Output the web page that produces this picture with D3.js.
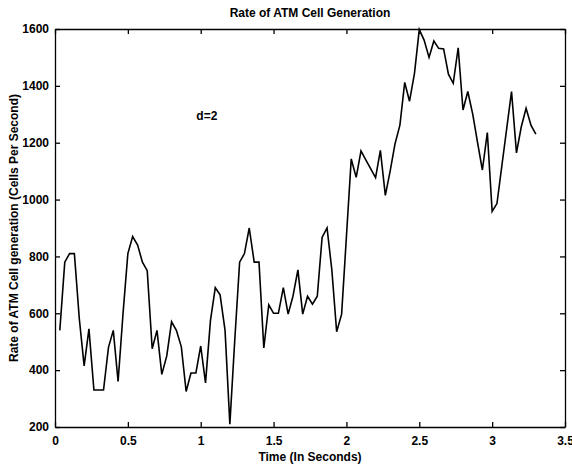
<!DOCTYPE html>
<html>
<head>
<meta charset="utf-8">
<script src="https://cdn.jsdelivr.net/npm/d3@7"></script>
<style>
  body { margin: 0; background: #fff; }
  svg text { font-family: "Liberation Sans", Arial, Helvetica, sans-serif; fill: #000; }
  .axis text { font-size: 12px; font-weight: bold; }
  .axis path, .axis line { stroke: #000; stroke-width: 1.3; }
</style>
</head>
<body>
<div id="chart"></div>
<script>
// Dimensions
const width = 572;
const height = 464;
const margin = {top: 29, right: 7, bottom: 37, left: 55};

// Data
const times = [
  0.033, 0.067, 0.100, 0.133, 0.167, 0.200, 0.233, 0.267, 0.300, 0.333,
  0.367, 0.400, 0.433, 0.467, 0.500, 0.533, 0.567, 0.600, 0.633, 0.667,
  0.700, 0.733, 0.767, 0.800, 0.833, 0.867, 0.900, 0.933, 0.967, 1.000,
  1.033, 1.067, 1.100, 1.133, 1.167, 1.200, 1.233, 1.267, 1.300, 1.333,
  1.367, 1.400, 1.433, 1.467, 1.500, 1.533, 1.567, 1.600, 1.633, 1.667,
  1.700, 1.733, 1.767, 1.800, 1.833, 1.867, 1.900, 1.933, 1.967, 2.000,
  2.033, 2.067, 2.100, 2.133, 2.167, 2.200, 2.233, 2.267, 2.300, 2.333,
  2.367, 2.400, 2.433, 2.467, 2.500, 2.533, 2.567, 2.600, 2.633, 2.667,
  2.700, 2.733, 2.767, 2.800, 2.833, 2.867, 2.900, 2.933, 2.967, 3.000,
  3.033, 3.067, 3.100, 3.133, 3.167, 3.200, 3.233, 3.267, 3.300
];
const cellRate = [
  540, 780, 810, 810, 580, 415, 545, 330, 330, 330,
  480, 540, 360, 600, 810, 870, 840, 780, 750, 475,
  540, 385, 450, 570, 540, 482, 325, 390, 390, 485,
  355, 575, 690, 665, 540, 210, 500, 780, 810, 900,
  780, 780, 478, 630, 600, 600, 690, 597, 660, 753,
  597, 660, 632, 660, 867, 900, 752, 535, 597, 870,
  1143, 1078, 1171, 1140, 1108, 1077, 1173, 1015, 1100, 1195,
  1262, 1412, 1346, 1444, 1598, 1561, 1500, 1558, 1532, 1530,
  1441, 1409, 1534, 1315, 1380, 1300, 1200, 1104, 1236, 958,
  986, 1120, 1250, 1380, 1164, 1256, 1321, 1261, 1230
];
const xTicks = [0, 0.5, 1, 1.5, 2, 2.5, 3, 3.5];
const yTicks = [200, 400, 600, 800, 1000, 1200, 1400, 1600];
const note = {t: 0.97, value: 1280, text: "d=2"};

const data = times.map((t, i) => ({t: t, value: cellRate[i]}));

const svg = d3.select("#chart").append("svg")
    .attr("width", width)
    .attr("height", height);

// Scales
const x = d3.scaleLinear()
    .domain([0, 3.5])
    .range([margin.left, width - margin.right]);

const y = d3.scaleLinear()
    .domain([200, 1600])
    .range([height - margin.bottom, margin.top]);

const fmt = d => String(d);

// Axes (ticks point inward, box on all four sides)
svg.append("g")
    .attr("class", "axis")
    .attr("transform", `translate(0,${height - margin.bottom})`)
    .call(d3.axisBottom(x).tickValues(xTicks).tickFormat(fmt).tickSizeInner(-5).tickSizeOuter(0).tickPadding(9));

svg.append("g")
    .attr("class", "axis")
    .attr("transform", `translate(${margin.left},0)`)
    .call(d3.axisLeft(y).tickValues(yTicks).tickFormat(fmt).tickSizeInner(-5).tickSizeOuter(0).tickPadding(6));

svg.append("g")
    .attr("class", "axis")
    .attr("transform", `translate(0,${margin.top})`)
    .call(d3.axisTop(x).tickValues(xTicks).tickFormat("").tickSizeInner(-5).tickSizeOuter(0));

svg.append("g")
    .attr("class", "axis")
    .attr("transform", `translate(${width - margin.right},0)`)
    .call(d3.axisRight(y).tickValues(yTicks).tickFormat("").tickSizeInner(-5).tickSizeOuter(0));

// Line
const line = d3.line()
    .x(d => x(d.t))
    .y(d => y(d.value));

svg.append("path")
    .datum(data)
    .attr("fill", "none")
    .attr("stroke", "#000")
    .attr("stroke-width", 1.6)
    .attr("stroke-linejoin", "miter")
    .attr("d", line);

// Annotation
svg.append("text")
    .attr("x", x(note.t))
    .attr("y", y(note.value))
    .attr("font-size", 12)
    .attr("font-weight", "bold")
    .text(note.text);

// Title and axis labels
svg.append("text")
    .attr("x", (margin.left + width - margin.right) / 2)
    .attr("y", 17)
    .attr("text-anchor", "middle")
    .attr("font-size", 12)
    .attr("font-weight", "bold")
    .text("Rate of ATM Cell Generation");

svg.append("text")
    .attr("x", (margin.left + width - margin.right) / 2)
    .attr("y", 461)
    .attr("text-anchor", "middle")
    .attr("font-size", 12)
    .attr("font-weight", "bold")
    .text("Time (In Seconds)");

svg.append("text")
    .attr("transform", `translate(18,${(margin.top + height - margin.bottom) / 2}) rotate(-90)`)
    .attr("text-anchor", "middle")
    .attr("font-size", 12)
    .attr("font-weight", "bold")
    .text("Rate of ATM Cell generation (Cells Per Second)");
</script>
</body>
</html>
